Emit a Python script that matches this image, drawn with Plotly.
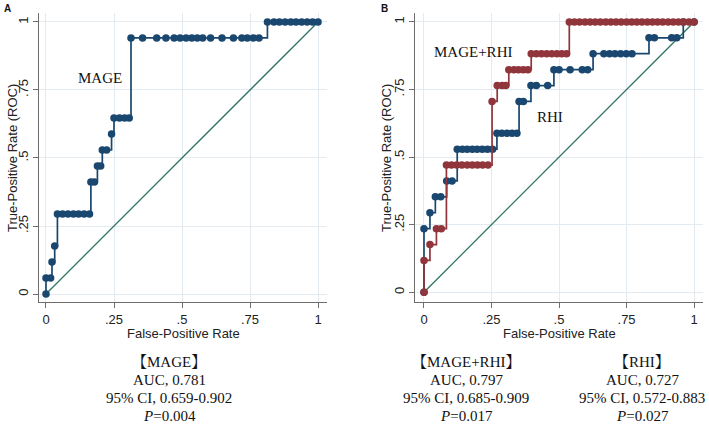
import plotly.graph_objects as go

# ---------------- data ----------------
ticks = [0, 0.25, 0.5, 0.75, 1]
tick_labels = ["0", ".25", ".5", ".75", "1"]

diag_x = [0, 1]
diag_y = [0, 1]

# Panel A: MAGE
mage_fpr = [0, 0, 0.017, 0.022, 0.032,
            0.042, 0.061, 0.081, 0.101, 0.120, 0.140, 0.160,
            0.165, 0.178, 0.189, 0.201, 0.207, 0.223, 0.241,
            0.250, 0.270, 0.289, 0.306,
            0.3125, 0.355, 0.407, 0.441, 0.471, 0.493, 0.515, 0.536, 0.556,
            0.576, 0.605, 0.647, 0.689, 0.720, 0.740, 0.762, 0.783,
            0.814, 0.838, 0.858, 0.879, 0.900, 0.919, 0.940, 0.960, 0.980, 1.0]
mage_tpr = [0, 0.0588, 0.0588, 0.1176, 0.1765,
            0.2941, 0.2941, 0.2941, 0.2941, 0.2941, 0.2941, 0.2941,
            0.4118, 0.4118, 0.4706, 0.4706, 0.5294, 0.5294, 0.5882,
            0.6471, 0.6471, 0.6471, 0.6471,
            0.9412, 0.9412, 0.9412, 0.9412, 0.9412, 0.9412, 0.9412, 0.9412, 0.9412,
            0.9412, 0.9412, 0.9412, 0.9412, 0.9412, 0.9412, 0.9412, 0.9412,
            1, 1, 1, 1, 1, 1, 1, 1, 1, 1]

# Panel B: RHI
rhi_fpr = [0, 0, 0.022, 0.042, 0.062, 0.084, 0.104,
           0.123, 0.142, 0.160, 0.179, 0.197, 0.216, 0.235, 0.254,
           0.270, 0.288, 0.307, 0.326, 0.344,
           0.352, 0.368,
           0.396, 0.416, 0.458,
           0.481, 0.500, 0.541, 0.586, 0.606,
           0.626, 0.666, 0.687, 0.707, 0.728, 0.749, 0.770,
           0.833, 0.853, 0.917, 0.936,
           0.960, 1.0]
rhi_tpr = [0, 0.2353, 0.2941, 0.3529, 0.3529, 0.4118, 0.4118,
           0.5294, 0.5294, 0.5294, 0.5294, 0.5294, 0.5294, 0.5294, 0.5294,
           0.5882, 0.5882, 0.5882, 0.5882, 0.5882,
           0.7059, 0.7059,
           0.7647, 0.7647, 0.7647,
           0.8235, 0.8235, 0.8235, 0.8235, 0.8235,
           0.8824, 0.8824, 0.8824, 0.8824, 0.8824, 0.8824, 0.8824,
           0.9412, 0.9412, 0.9412, 0.9412,
           1, 1]

# Panel B: MAGE+RHI
comb_fpr = [0, 0, 0.022, 0.046, 0.064,
            0.083, 0.102, 0.121, 0.140, 0.160, 0.179, 0.198, 0.217, 0.237,
            0.252,
            0.271, 0.289, 0.303,
            0.314, 0.333, 0.350, 0.368, 0.385,
            0.397, 0.416, 0.435, 0.454, 0.473, 0.492, 0.510, 0.528,
            0.538, 0.557, 0.576, 0.596, 0.615, 0.634, 0.653, 0.673, 0.692,
            0.711, 0.730, 0.750, 0.769, 0.788, 0.807, 0.827, 0.846, 0.865,
            0.884, 0.904, 0.923, 0.942, 0.961, 0.981, 1.0]
comb_tpr = [0, 0.1176, 0.1765, 0.2353, 0.2353,
            0.4706, 0.4706, 0.4706, 0.4706, 0.4706, 0.4706, 0.4706, 0.4706, 0.4706,
            0.7059,
            0.7647, 0.7647, 0.7647,
            0.8235, 0.8235, 0.8235, 0.8235, 0.8235,
            0.8824, 0.8824, 0.8824, 0.8824, 0.8824, 0.8824, 0.8824, 0.8824,
            1, 1, 1, 1, 1, 1, 1, 1, 1,
            1, 1, 1, 1, 1, 1, 1, 1, 1,
            1, 1, 1, 1, 1, 1, 1]

stats_A = ["【MAGE】", "AUC, 0.781", "95% CI, 0.659-0.902", "<i>P</i>=0.004"]
stats_B1 = ["【MAGE+RHI】", "AUC, 0.797", "95% CI, 0.685-0.909", "<i>P</i>=0.017"]
stats_B2 = ["【RHI】", "AUC, 0.727", "95% CI, 0.572-0.883", "<i>P</i>=0.027"]

# ---------------- style ----------------
W, H = 709, 426
BLUE = "#1a476f"
RED = "#90353b"
DIAG = "#2f7565"
AXIS = "#6e6e6e"
GRID = "#e4ebf0"
SANS = "Liberation Sans, Arial, sans-serif"
SERIF = "Liberation Serif, Times New Roman, Noto Serif CJK SC, Noto Sans CJK SC, serif"

fig = go.Figure()


def roc_trace(x, y, color, xa, ya):
    return go.Scatter(x=x, y=y, mode="lines+markers", line=dict(color=color, width=1.7, shape="hv"),
                      marker=dict(color=color, size=7.5, line=dict(width=0)),
                      xaxis=xa, yaxis=ya, showlegend=False, hoverinfo="skip")


def diag_trace(xa, ya):
    return go.Scatter(x=diag_x, y=diag_y, mode="lines", line=dict(color=DIAG, width=1.3),
                      xaxis=xa, yaxis=ya, showlegend=False, hoverinfo="skip")


fig.add_trace(diag_trace("x", "y"))
fig.add_trace(roc_trace(mage_fpr, mage_tpr, BLUE, "x", "y"))
fig.add_trace(diag_trace("x2", "y2"))
fig.add_trace(roc_trace(rhi_fpr, rhi_tpr, BLUE, "x2", "y2"))
fig.add_trace(roc_trace(comb_fpr, comb_tpr, RED, "x2", "y2"))


def px_x(p):
    return p / W


def px_y(p):
    return 1 - p / H


axis_common = dict(showline=True, linecolor=AXIS, linewidth=1, ticks="outside", ticklen=5,
                   tickcolor=AXIS, tickwidth=1, showgrid=True, gridcolor=GRID, gridwidth=1,
                   zeroline=False, tickvals=ticks, ticktext=tick_labels,
                   tickfont=dict(family=SANS, size=13, color="#222"))

fig.update_layout(
    width=W, height=H, margin=dict(l=0, r=0, t=0, b=0),
    paper_bgcolor="white", plot_bgcolor="white",
    xaxis=dict(domain=[px_x(39), px_x(327)], range=[-0.0257, 1.033], anchor="y", **axis_common),
    yaxis=dict(domain=[px_y(302), px_y(13)], range=[-0.0294, 1.033], anchor="x", tickangle=-90,
               **axis_common),
    xaxis2=dict(domain=[px_x(415), px_x(703)], range=[-0.0333, 1.033], anchor="y2", **axis_common),
    yaxis2=dict(domain=[px_y(302), px_y(13)], range=[-0.036, 1.033], anchor="x2", tickangle=-90,
                **axis_common),
)

ann = []
# panel letters
ann.append(dict(text="<b>A</b>", x=px_x(2), y=px_y(8), xref="paper", yref="paper",
                xanchor="left", yanchor="middle", showarrow=False,
                font=dict(family=SANS, size=10, color="#111")))
ann.append(dict(text="<b>B</b>", x=px_x(379), y=px_y(8), xref="paper", yref="paper",
                xanchor="left", yanchor="middle", showarrow=False,
                font=dict(family=SANS, size=10, color="#111")))
# axis titles
for cx in (12, 386):
    ann.append(dict(text="True-Positive Rate (ROC)", x=px_x(cx), y=px_y(158), xref="paper", yref="paper",
                    textangle=-90, showarrow=False, xanchor="center", yanchor="middle",
                    font=dict(family=SANS, size=13, color="#222")))
for cx in (183, 559):
    ann.append(dict(text="False-Positive Rate", x=px_x(cx), y=px_y(333), xref="paper", yref="paper",
                    showarrow=False, xanchor="center", yanchor="middle",
                    font=dict(family=SANS, size=13, color="#222")))
# curve labels
ann.append(dict(text="MAGE", x=0.197, y=0.794, xref="x", yref="y", showarrow=False,
                font=dict(family=SERIF, size=15, color="#111")))
ann.append(dict(text="MAGE+RHI", x=0.18, y=0.89, xref="x2", yref="y2", showarrow=False,
                font=dict(family=SERIF, size=15, color="#111")))
ann.append(dict(text="RHI", x=0.465, y=0.647, xref="x2", yref="y2", showarrow=False,
                font=dict(family=SERIF, size=15, color="#111")))
# statistics blocks
line_y = [362, 380, 398, 416]
for cx, block in ((169, stats_A), (466, stats_B1), (642, stats_B2)):
    for ly, txt in zip(line_y, block):
        ann.append(dict(text=txt, x=px_x(cx), y=px_y(ly), xref="paper", yref="paper",
                        showarrow=False, xanchor="center", yanchor="middle",
                        font=dict(family=SERIF, size=15, color="#111")))

fig.update_layout(annotations=ann)
fig.write_html("out.html", config={"displayModeBar": False},
               post_script="document.body.style.margin='0';document.body.style.overflow='hidden';")
